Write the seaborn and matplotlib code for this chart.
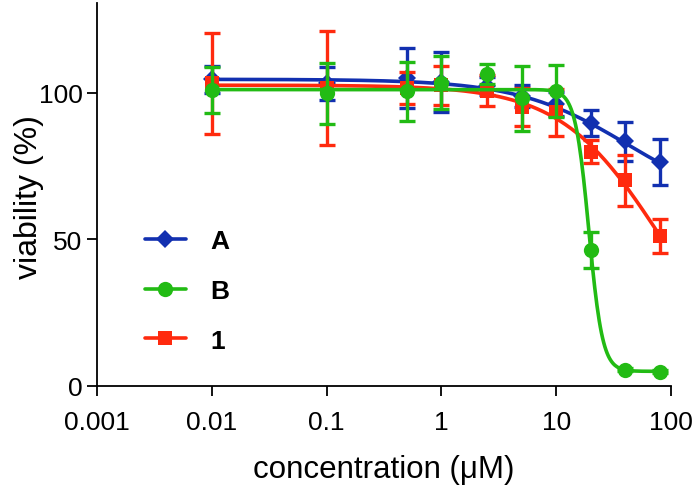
import numpy as np
import pandas as pd
import matplotlib
matplotlib.use("Agg")
import matplotlib.pyplot as plt
import seaborn as sns
from matplotlib.lines import Line2D

# ---- data ----
conc = [0.01, 0.1, 0.5, 1, 2.5, 5, 10, 20, 40, 80]
series_names = ["A", "B", "1"]
A_mean = [104.5, 103.2, 105.0, 103.5, 102.3, 98.8, 96.1, 89.7, 83.4, 76.3]
A_err = [4.7, 5.6, 10.3, 10.2, 3.0, 3.8, 4.0, 4.5, 6.6, 7.7]
B_mean = [100.8, 99.7, 100.4, 103.3, 106.3, 98.0, 100.5, 46.3, 5.6, 4.9]
B_err = [7.8, 10.3, 10.0, 9.0, 3.4, 11.2, 9.0, 6.1, 0.6, 0.5]
R_mean = [103.1, 101.6, 101.5, 102.5, 100.6, 95.0, 93.3, 79.9, 70.1, 51.1]
R_err = [17.2, 19.4, 5.4, 6.7, 5.3, 6.5, 8.0, 3.9, 8.6, 5.8]

# fitted dose-response (4PL) parameters estimated from the drawn curves
fit_top = [104.5, 101.0, 102.5]
fit_bottom = [60.0, 5.0, 0.0]
fit_ec50 = [42.0, 19.25, 80.0]
fit_hill = [0.9, 7.3, 1.0]

xtick_vals = [0.001, 0.01, 0.1, 1, 10, 100]
xtick_labels = ["0.001", "0.01", "0.1", "1", "10", "100"]
ytick_vals = [0, 50, 100]

colors = ["#1230b0", "#22bb14", "#ff2a0e"]
markers = ["D", "o", "s"]
msizes = [9, 11, 10]

# ---- styling ----
sns.set_style("ticks")
plt.rcParams["font.family"] = ["Liberation Sans", "DejaVu Sans"]
plt.rcParams["text.color"] = "black"
plt.rcParams["axes.labelcolor"] = "black"
plt.rcParams["xtick.color"] = "black"
plt.rcParams["ytick.color"] = "black"
plt.rcParams["axes.edgecolor"] = "black"

fig = plt.figure(figsize=(6.98, 4.89), dpi=100)
ax = fig.add_axes([97 / 698, 1 - 387 / 489, 574 / 698, 383 / 489])

order = [0, 2, 1]  # draw blue, then red, then green on top

rows = []
xs = np.logspace(np.log10(conc[0]), np.log10(conc[-1]), 400)
for i, name in enumerate(series_names):
    yfit = fit_bottom[i] + (fit_top[i] - fit_bottom[i]) / (1 + (xs / fit_ec50[i]) ** fit_hill[i])
    for xv, yv in zip(xs, yfit):
        rows.append({"conc": xv, "viability": yv, "series": name})
curve_df = pd.DataFrame(rows)

pts = pd.DataFrame({
    "conc": conc * 3,
    "viability": A_mean + B_mean + R_mean,
    "err": A_err + B_err + R_err,
    "series": sum([[n] * len(conc) for n in series_names], []),
})

for k, i in enumerate(order):
    name = series_names[i]
    z = 3 + k * 3
    sub_c = curve_df[curve_df.series == name]
    sns.lineplot(data=sub_c, x="conc", y="viability", ax=ax, color=colors[i],
                 lw=2.6, zorder=z, legend=False)
    sub_p = pts[pts.series == name]
    ax.errorbar(sub_p["conc"], sub_p["viability"], yerr=sub_p["err"], fmt="none",
                ecolor=colors[i], elinewidth=2.4, capsize=5.5, capthick=2.4, zorder=z + 1)
    ax.plot(sub_p["conc"], sub_p["viability"], linestyle="none", marker=markers[i],
            markersize=msizes[i], color=colors[i], markeredgewidth=0, zorder=z + 2)

ax.set_xscale("log")
ax.set_xlim(0.001, 100)
ax.set_ylim(0, 130.5)
ax.set_xticks(xtick_vals)
ax.set_xticklabels(xtick_labels)
ax.minorticks_off()
ax.set_yticks(ytick_vals)
ax.tick_params(axis="both", labelsize=19, length=7.5, width=1.3, direction="out",
               colors="black")
ax.tick_params(axis="x", pad=10)
ax.tick_params(axis="y", pad=3)
for s in ["left", "bottom"]:
    ax.spines[s].set_linewidth(1.3)
    ax.spines[s].set_color("black")
sns.despine(ax=ax)

ax.set_xlabel("concentration (\u03bcM)", fontsize=22.5, labelpad=14)
ax.set_ylabel("viability (%)", fontsize=23)
ax.yaxis.set_label_coords(-0.092, 0.496)

handles = [Line2D([0], [0], color=colors[i], lw=2.6, marker=markers[i],
                  markersize=msizes[i], markeredgewidth=0) for i in range(3)]
ax.legend(handles, series_names, loc="upper left", bbox_to_anchor=(0.0836, 0.41),
          frameon=False, borderpad=0, borderaxespad=0,
          handlelength=1.55, handletextpad=0.92, labelspacing=0.98,
          prop={"weight": "bold", "size": 19})

fig.savefig("out.png", dpi=100)
